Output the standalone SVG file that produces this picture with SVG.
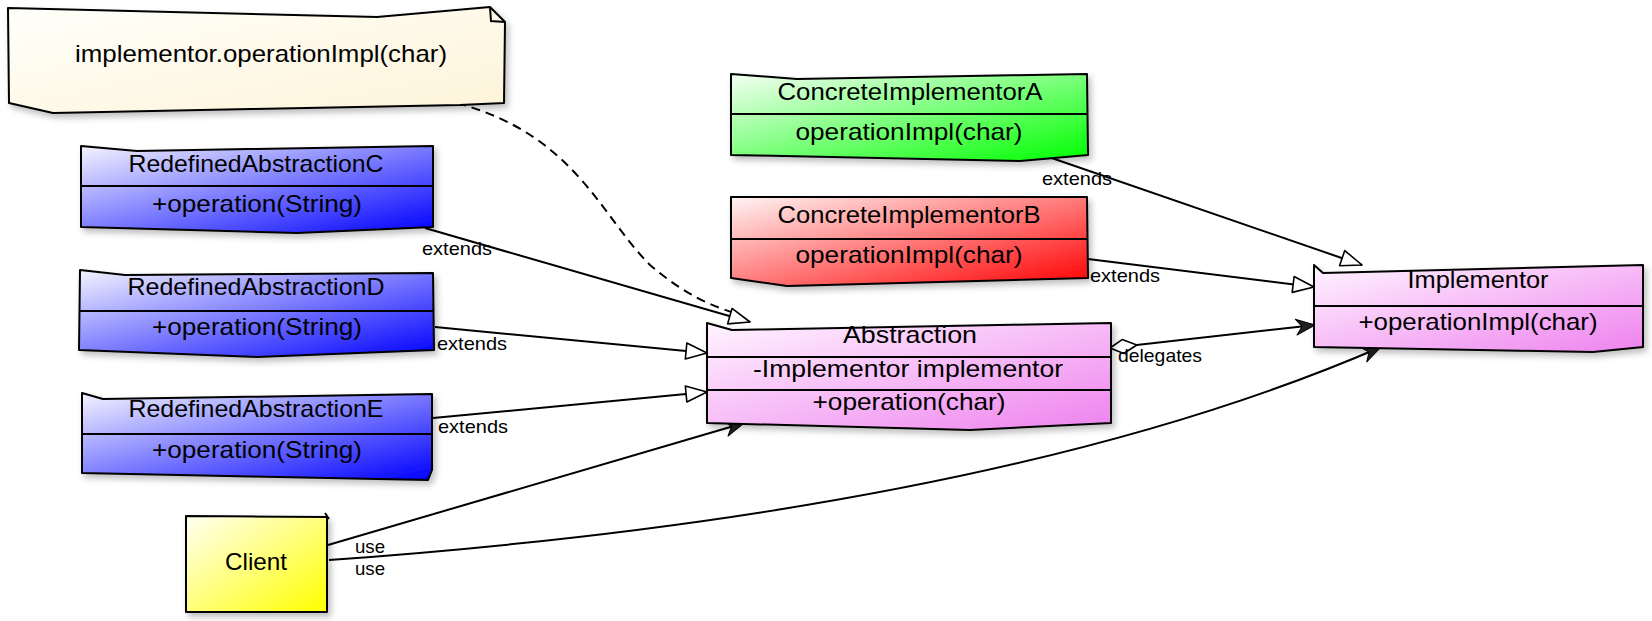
<svg xmlns="http://www.w3.org/2000/svg" width="1652" height="621" viewBox="0 0 1652 621">
<style>
.box{stroke:#000;stroke-width:2;stroke-linejoin:round;filter:url(#sh)}
.div{stroke:#000;stroke-width:2;fill:none}
.t{font-family:"Liberation Sans",Arial,sans-serif;font-size:24px;fill:#000;text-anchor:middle}
.l{font-family:"Liberation Sans",Arial,sans-serif;font-size:19px;fill:#000}
.c{stroke:#000;stroke-width:2;fill:none}
.dash{stroke-dasharray:9,6}
</style>
<defs>
<filter id="sh" x="-10%" y="-10%" width="125%" height="140%">
<feDropShadow dx="3" dy="4" stdDeviation="3" flood-color="#000" flood-opacity="0.25"/>
</filter>
<linearGradient id="gBlue" x1="0" y1="0" x2="1" y2="1"><stop offset="0" stop-color="#f4f4ff"/><stop offset="1" stop-color="#0000ff"/></linearGradient>
<linearGradient id="gGreen" x1="0" y1="0" x2="1" y2="1"><stop offset="0" stop-color="#f4fff4"/><stop offset="1" stop-color="#00ff00"/></linearGradient>
<linearGradient id="gRed" x1="0" y1="0" x2="1" y2="1"><stop offset="0" stop-color="#fff4f4"/><stop offset="1" stop-color="#ff0000"/></linearGradient>
<linearGradient id="gPink" x1="0" y1="0" x2="1" y2="1"><stop offset="0" stop-color="#fff4ff"/><stop offset="1" stop-color="#ee82ee"/></linearGradient>
<linearGradient id="gNote" x1="0" y1="0" x2="1" y2="1"><stop offset="0" stop-color="#fffffa"/><stop offset="1" stop-color="#fdf3d8"/></linearGradient>
<linearGradient id="gYellow" x1="0" y1="0" x2="1" y2="1"><stop offset="0" stop-color="#fffff4"/><stop offset="1" stop-color="#ffff00"/></linearGradient>
<marker id="tri" markerUnits="userSpaceOnUse" markerWidth="26" markerHeight="20" refX="23" refY="10" orient="auto">
<path d="M2,2 L23,10 L2,18 Z" fill="#fff" stroke="#000" stroke-width="1.6" stroke-linejoin="round"/>
</marker>
<marker id="vee" markerUnits="userSpaceOnUse" markerWidth="24" markerHeight="20" refX="21" refY="10" orient="auto">
<path d="M2,2 L21,10 L2,18 L8,10 Z" fill="#222" stroke="#000" stroke-width="1" stroke-linejoin="round"/>
</marker>
<marker id="dia" markerUnits="userSpaceOnUse" markerWidth="32" markerHeight="18" refX="1" refY="9" orient="auto">
<path d="M1,9 L14,2 L28,9 L14,16 Z" fill="#fff" stroke="#000" stroke-width="1.6" stroke-linejoin="round"/>
</marker>
</defs>
<rect width="1652" height="621" fill="#fff"/>

<g id="connectors">
<path class="c dash" d="M457,103 C575,135 600,215 650,265 C685,295 712,306 735,313"/>
<path class="c" d="M425,228 L750,322" marker-end="url(#tri)"/>
<text class="l" x="422" y="255" textLength="70" lengthAdjust="spacingAndGlyphs">extends</text>
<path class="c" d="M435,327 L707,353" marker-end="url(#tri)"/>
<text class="l" x="437" y="350" textLength="70" lengthAdjust="spacingAndGlyphs">extends</text>
<path class="c" d="M433,418 L707,392" marker-end="url(#tri)"/>
<text class="l" x="438" y="433" textLength="70" lengthAdjust="spacingAndGlyphs">extends</text>
<path class="c" d="M1043,155 L1362,265" marker-end="url(#tri)"/>
<text class="l" x="1042" y="185" textLength="70" lengthAdjust="spacingAndGlyphs">extends</text>
<path class="c" d="M1088,259 L1314,287" marker-end="url(#tri)"/>
<text class="l" x="1090" y="282" textLength="70" lengthAdjust="spacingAndGlyphs">extends</text>
<path class="c" d="M1110,348 L1315,325" marker-start="url(#dia)" marker-end="url(#vee)"/>
<text class="l" x="1118" y="362" textLength="84" lengthAdjust="spacingAndGlyphs">delegates</text>
<path class="c" d="M328,545 L744,423" marker-end="url(#vee)"/>
<text class="l" x="355" y="553" textLength="30" lengthAdjust="spacingAndGlyphs">use</text>
<path class="c" d="M329,560 Q1000,512 1381,347" marker-end="url(#vee)"/>
<text class="l" x="355" y="575" textLength="30" lengthAdjust="spacingAndGlyphs">use</text>
</g>

<g id="note">
<path class="box" fill="url(#gNote)" d="M8,8 L377,17 L490,7 L505,22 L504,103 L460,105 L53,113 L9,103 Z"/>
<path class="div" d="M490,7 L491,21 L505,22"/>
<text class="t" x="261" y="62" textLength="372" lengthAdjust="spacingAndGlyphs">implementor.operationImpl(char)</text>
</g>

<g id="RedefinedAbstractionC">
<path class="box" fill="url(#gBlue)" d="M81,146 L137,151 L433,146 L433,227 L297,233 L81,227 Z"/>
<path class="div" d="M81,186 L433,186"/>
<text class="t" x="256" y="172" textLength="255" lengthAdjust="spacingAndGlyphs">RedefinedAbstractionC</text>
<text class="t" x="257" y="212" textLength="210" lengthAdjust="spacingAndGlyphs">+operation(String)</text>
</g>

<g id="RedefinedAbstractionD">
<path class="box" fill="url(#gBlue)" d="M80,270 L125,275 L433,273 L434,350 L257,357 L79,350 Z"/>
<path class="div" d="M80,311 L434,311"/>
<text class="t" x="256" y="295" textLength="257" lengthAdjust="spacingAndGlyphs">RedefinedAbstractionD</text>
<text class="t" x="257" y="335" textLength="210" lengthAdjust="spacingAndGlyphs">+operation(String)</text>
</g>

<g id="RedefinedAbstractionE">
<path class="box" fill="url(#gBlue)" d="M82,393 L103,399 L432,394 L432,470 L428,480 L82,473 Z"/>
<path class="div" d="M82,434 L432,434"/>
<text class="t" x="256" y="417" textLength="255" lengthAdjust="spacingAndGlyphs">RedefinedAbstractionE</text>
<text class="t" x="257" y="458" textLength="210" lengthAdjust="spacingAndGlyphs">+operation(String)</text>
</g>

<g id="ConcreteImplementorA">
<path class="box" fill="url(#gGreen)" d="M731,74 L797,79 L1087,74 L1088,155 L1020,161 L731,155 Z"/>
<path class="div" d="M731,114 L1088,114"/>
<text class="t" x="910" y="100" textLength="265" lengthAdjust="spacingAndGlyphs">ConcreteImplementorA</text>
<text class="t" x="909" y="140" textLength="227" lengthAdjust="spacingAndGlyphs">operationImpl(char)</text>
</g>

<g id="ConcreteImplementorB">
<path class="box" fill="url(#gRed)" d="M731,197 L1087,197 L1088,278 L787,286 L731,278 Z"/>
<path class="div" d="M731,239 L1088,239"/>
<text class="t" x="909" y="223" textLength="263" lengthAdjust="spacingAndGlyphs">ConcreteImplementorB</text>
<text class="t" x="909" y="263" textLength="227" lengthAdjust="spacingAndGlyphs">operationImpl(char)</text>
</g>

<g id="Implementor">
<path class="box" fill="url(#gPink)" d="M1314,265 L1323,273 L1643,265 L1643,347 L1593,352 L1314,347 Z"/>
<path class="div" d="M1314,306 L1643,306"/>
<text class="t" x="1478" y="288" textLength="141" lengthAdjust="spacingAndGlyphs">Implementor</text>
<text class="t" x="1478" y="330" textLength="239" lengthAdjust="spacingAndGlyphs">+operationImpl(char)</text>
</g>

<g id="Abstraction">
<path class="box" fill="url(#gPink)" d="M707,323 L732,330 L1111,323 L1111,423 L970,430 L707,423 Z"/>
<path class="div" d="M707,357 L1111,357 M707,390 L1111,390"/>
<text class="t" x="910" y="343" textLength="134" lengthAdjust="spacingAndGlyphs">Abstraction</text>
<text class="t" x="908" y="377" textLength="310" lengthAdjust="spacingAndGlyphs">-Implementor implementor</text>
<text class="t" x="909" y="410" textLength="193" lengthAdjust="spacingAndGlyphs">+operation(char)</text>
</g>

<g id="Client">
<path class="box" fill="url(#gYellow)" d="M186,516 L327,517 L327,612 L186,612 Z"/>
<path class="div" d="M325,513 L329,519"/>
<text class="t" x="256" y="570" textLength="62" lengthAdjust="spacingAndGlyphs">Client</text>
</g>
</svg>
